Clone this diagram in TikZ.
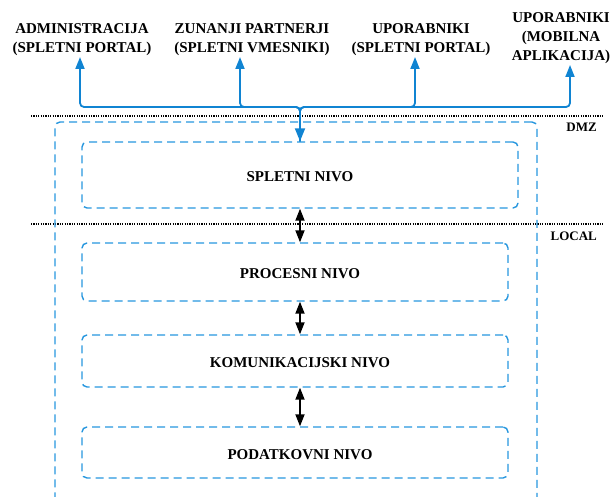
\documentclass[tikz,border=0pt]{standalone}
\usepackage{fontspec}
\setmainfont{Liberation Serif}
\usetikzlibrary{arrows.meta,calc}
\definecolor{busblue}{RGB}{16,132,210}
\definecolor{dashblue}{RGB}{38,150,222}
\begin{document}
\begin{tikzpicture}[x=1pt,y=-1pt,
  toplbl/.style={font=\bfseries\fontsize{15}{19}\selectfont, align=center, inner sep=0pt, anchor=south},
  tier/.style={draw=dashblue, line width=1.4pt, dash pattern=on 8pt off 5pt, rounded corners=5pt, inner sep=0pt},
  tierlbl/.style={font=\bfseries\fontsize{15}{18}\selectfont, inner sep=0pt},
  zonelbl/.style={font=\bfseries\fontsize{13}{15}\selectfont, inner sep=0pt, anchor=base east},
  bus/.style={draw=busblue, line width=1.8pt, rounded corners=4pt, -{Triangle[length=12pt,width=9pt]}, shorten >=1.5pt},
  dbl/.style={draw=black, line width=1.8pt, {Triangle[length=12pt,width=9pt]}-{Triangle[length=12pt,width=9pt]}},
  sep/.style={black, line width=1.1pt, dash pattern=on 1.1pt off 1.3pt}]
\useasboundingbox (0,0) rectangle (612,497);
\clip (0,0) rectangle (612,497);

% top labels
\node[toplbl] (adm) at (82,55.5) {ADMINISTRACIJA\\(SPLETNI PORTAL)};
\node[toplbl] (zun) at (252,55.5) {ZUNANJI PARTNERJI\\(SPLETNI VMESNIKI)};
\node[toplbl] (upo) at (421,55.5) {UPORABNIKI\\(SPLETNI PORTAL)};
\node[toplbl] (mob) at (561,63.5) {UPORABNIKI\\(MOBILNA\\APLIKACIJA)};

% separators
\coordinate (dmzL) at (31,116);
\coordinate (dmzR) at (603,116);
\coordinate (locL) at (31,224);
\coordinate (locR) at (603,224);
\draw[sep] (dmzL) -- (dmzR);
\draw[sep] (locL) -- (locR);
\node[zonelbl] (dmz) at (597,132) {DMZ};
\node[zonelbl] (loc) at (597,240) {LOCAL};

% outer zone
\node[tier, minimum width=482pt, minimum height=383pt] (zone) at (296,313.5) {};

% tiers
\node[tier, minimum width=436pt, minimum height=66pt] (spl) at (300,175) {};
\node[tier, minimum width=426pt, minimum height=58pt] (pro) at (295,272) {};
\node[tier, minimum width=426pt, minimum height=52pt] (kom) at (295,361) {};
\node[tier, minimum width=426pt, minimum height=51pt] (pod) at (295,452.5) {};

\node[tierlbl] (splt) at ([yshift=-2pt]spl.center) {SPLETNI NIVO};
\node[tierlbl] (prot) at ([yshift=-2pt]spl.center |- pro.center) {PROCESNI NIVO};
\node[tierlbl] (komt) at ([yshift=-2pt]spl.center |- kom.center) {KOMUNIKACIJSKI NIVO};
\node[tierlbl] (podt) at ([yshift=-2pt]spl.center |- pod.center) {PODATKOVNI NIVO};

% bus
\coordinate (hub) at (300,107);
\draw[bus, {Triangle[length=13pt,width=10pt]}-{Triangle[length=12pt,width=9pt]}] (spl.north) -- (hub) -| ([xshift=-2pt]adm.south);
\draw[bus] (spl.north) -- (hub) -| ([xshift=-12pt]zun.south);
\draw[bus] (spl.north) -- (hub) -| ([xshift=-6pt]upo.south);
\draw[bus] (spl.north) -- (hub) -| ([xshift=9pt]mob.south);

% inter-tier arrows
\draw[dbl] (spl.south) -- (spl.south |- pro.north);
\draw[dbl] (spl.south |- pro.south) -- (spl.south |- kom.north);
\draw[dbl] (spl.south |- kom.south) -- (spl.south |- pod.north);
\end{tikzpicture}
\end{document}
